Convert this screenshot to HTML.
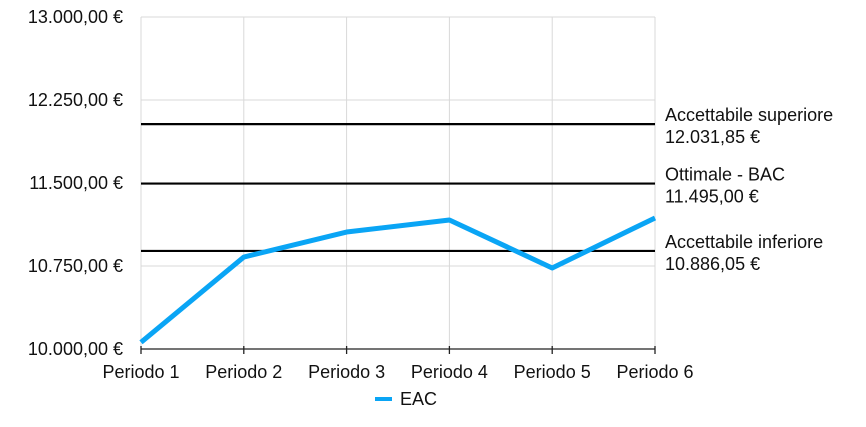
<!DOCTYPE html>
<html><head><meta charset="utf-8"><style>
body{margin:0;background:#fff;}
svg text{font-family:"Liberation Sans",sans-serif;font-size:18px;fill:#111;}
</style></head><body>
<svg width="866" height="422" xmlns="http://www.w3.org/2000/svg" id="chart"></svg>
<script>
const categories=["Periodo 1","Periodo 2","Periodo 3","Periodo 4","Periodo 5","Periodo 6"];
const eacValues=[10060,10831,11057,11166,10732,11184];
const yTicks=[10000,10750,11500,12250,13000];
const yTickLabels=["10.000,00 €","10.750,00 €","11.500,00 €","12.250,00 €","13.000,00 €"];
const refValues=[12031.85,11495.00,10886.05];
const refNames=["Accettabile superiore","Ottimale - BAC","Accettabile inferiore"];
const refLabels=["12.031,85 €","11.495,00 €","10.886,05 €"];
const svg=document.getElementById('chart');
const NS="http://www.w3.org/2000/svg";
const x0=141,x1=655,yTop=17,yBot=349,vMin=10000,vMax=13000;
const xs=i=>x0+i*(x1-x0)/(categories.length-1);
const ys=v=>yBot-(v-vMin)/(vMax-vMin)*(yBot-yTop);
function mk(t,a,p){const e=document.createElementNS(NS,t);for(const k in a)e.setAttribute(k,a[k]);(p||svg).appendChild(e);return e;}
yTicks.forEach((v,i)=>{
 const g=mk('line',{x1:x0,x2:x1,y1:ys(v),y2:ys(v),stroke:'#d9d9d9','stroke-width':1});
 
 
 const t=mk('text',{x:123,y:ys(v)+6,'text-anchor':'end'});t.textContent=yTickLabels[i];
 
 
});
categories.forEach((c,i)=>{
 const g=mk('line',{x1:xs(i),x2:xs(i),y1:yTop,y2:yBot,stroke:'#d9d9d9','stroke-width':1});
 
 
 const tk=mk('line',{x1:xs(i),x2:xs(i),y1:yBot-3,y2:yBot+5,stroke:'#222','stroke-width':1.3});
 
 
 const t=mk('text',{x:xs(i),y:378,'text-anchor':'middle'});t.textContent=c;
 
 
});
const ax=mk('line',{x1:x0,x2:x1,y1:yBot,y2:yBot,stroke:'#222','stroke-width':1.3});


refValues.forEach((v,i)=>{
 const l=mk('line',{x1:x0,x2:x1,y1:ys(v),y2:ys(v),stroke:'#000','stroke-width':2.2});
 
 
 const t=mk('text',{x:665,y:ys(v)-3});t.textContent=refNames[i];
 
 
 const t2=mk('text',{x:665,y:ys(v)+19});t2.textContent=refLabels[i];
 
 
});
const pl=mk('polyline',{points:eacValues.map((v,i)=>xs(i)+','+ys(v)).join(' '),fill:'none',stroke:'#0aa5f5','stroke-width':5,'stroke-linejoin':'round'});


const lg=mk('line',{x1:375,x2:392,y1:399,y2:399,stroke:'#0aa5f5','stroke-width':4});


const lt=mk('text',{x:400,y:405});lt.textContent="EAC";


</script>
</body></html>
